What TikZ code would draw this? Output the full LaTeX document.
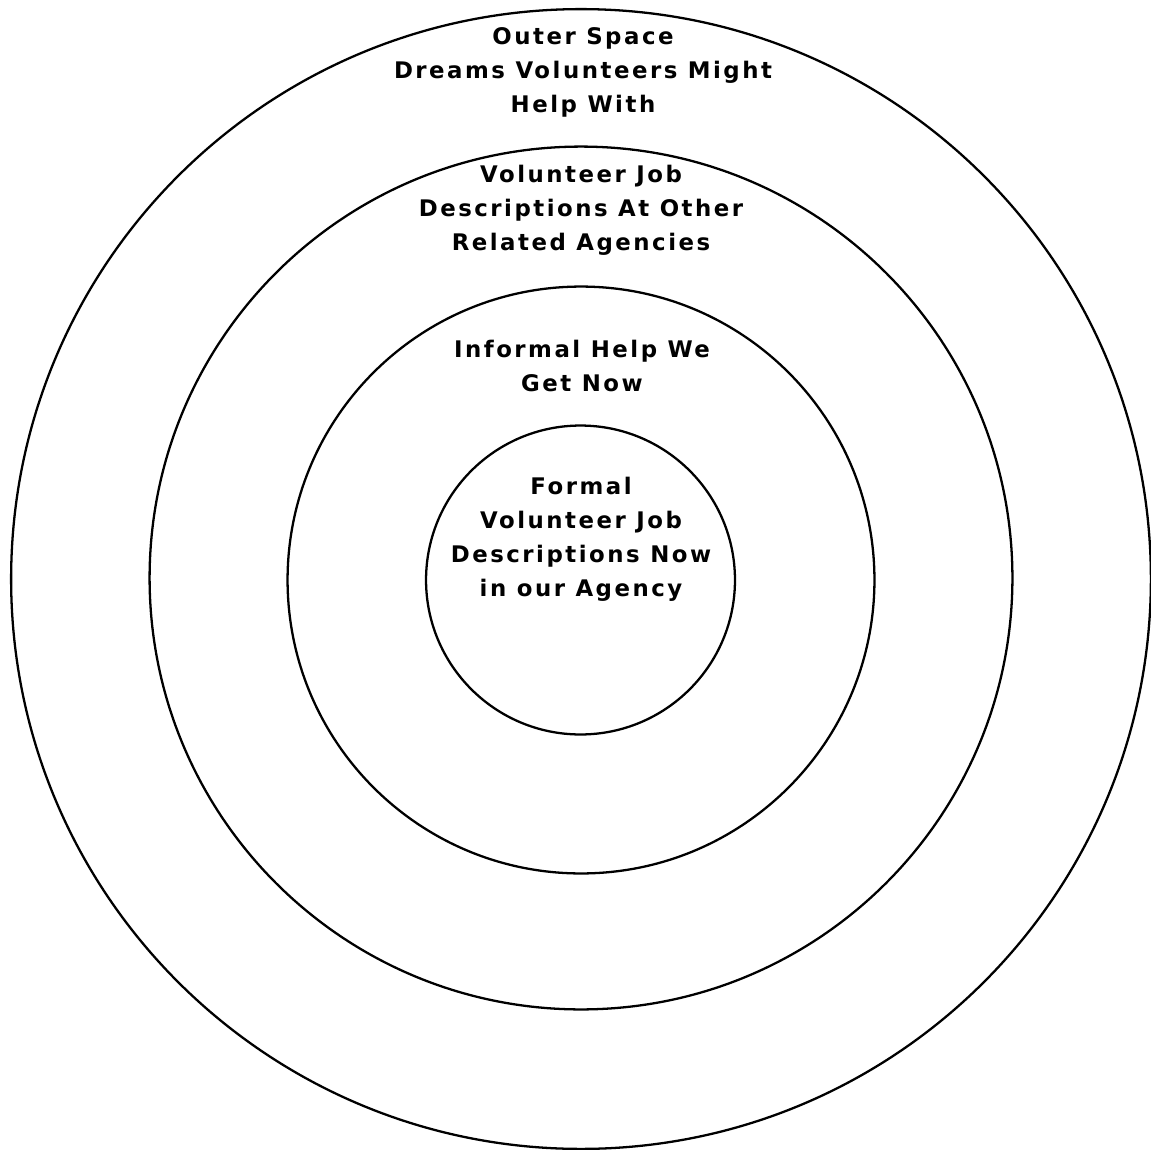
\documentclass[tikz,border=0pt]{standalone}
\usepackage{fontspec}
\setmainfont{DejaVu Sans}[LetterSpace=11]
\begin{document}
\begin{tikzpicture}[
    x=0.02cm, y=-0.02cm,
    ring/.style={circle, draw=black, line width=1.3pt, inner sep=0pt},
    label/.style={font=\fontsize{13}{19.4}\selectfont\bfseries, align=center, inner sep=0pt}
]
    \useasboundingbox (0,0) rectangle (1151,1149);

    % Rings, outside in
    \node[ring, minimum size=22.8cm] (space) at (581,579) {};
    \node[ring, minimum size=17.26cm] (related) at (581,578) {};
    \node[ring, minimum size=11.74cm] (informal) at (581,580) {};
    \node[ring, minimum size=6.18cm] (formal) at (580.5,580) {};

    % Labels
    \node[label] (spacetext) at (583,72) {Outer Space\\Dreams Volunteers Might\\Help With};
    \node[label] (relatedtext) at (581,210) {Volunteer Job\\Descriptions At Other\\Related Agencies};
    \node[label] (informaltext) at (582,366) {Informal Help We\\Get Now};
    \node[label] (formaltext) at (581,539) {Formal\\Volunteer Job\\Descriptions Now\\in our Agency};
\end{tikzpicture}
\end{document}
